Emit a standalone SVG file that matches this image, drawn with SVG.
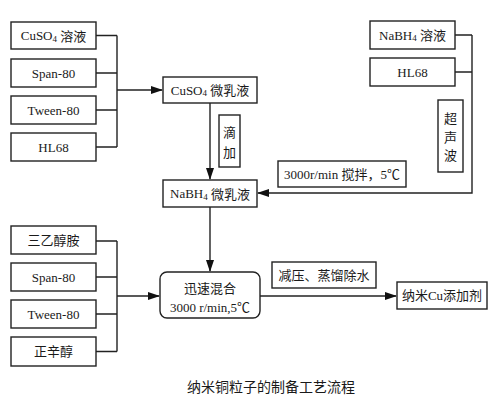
<svg xmlns="http://www.w3.org/2000/svg" width="492" height="402" viewBox="0 0 492 402">
<defs>
<marker id="ah" markerWidth="12" markerHeight="8" refX="11" refY="4" orient="auto" markerUnits="userSpaceOnUse">
<path d="M0,0 L12,4 L0,8 Z" fill="#111"/>
</marker>
<style>
.b{fill:#fff;stroke:#222;stroke-width:1.4}
.t{font-family:"Liberation Serif","Noto Sans CJK SC",serif;font-size:13px;fill:#1a1a1a;text-anchor:middle;dominant-baseline:central}
.l{fill:none;stroke:#222;stroke-width:1.4}
.s{font-size:9px}
</style>
</defs>
<rect width="492" height="402" fill="#fff"/>
<g id="connectors">
<path class="l" d="M96,35.5H117M96,73H117M96,110H117M96,147H117M117,35.5V147"/>
<path class="l" d="M117,90H162" marker-end="url(#ah)"/>
<path class="l" d="M210,103V179" marker-end="url(#ah)"/>
<path class="l" d="M455,35H472M455,72H472"/>
<path class="l" d="M472,35V193H258" marker-end="url(#ah)"/>
<path class="l" d="M210,207V271" marker-end="url(#ah)"/>
<path class="l" d="M96,241H117M96,277H117M96,314H117M96,351.5H117M117,241V351.5"/>
<path class="l" d="M117,296H159" marker-end="url(#ah)"/>
<path class="l" d="M260,296H396" marker-end="url(#ah)"/>
</g>
<g id="n-cuso4"><rect class="b" x="11" y="22" width="85" height="27"/><text class="t" x="53.5" y="35.5">CuSO<tspan class="s" dy="3">4</tspan><tspan dy="-3"> 溶液</tspan></text></g>
<g id="n-span1"><rect class="b" x="11" y="59" width="85" height="28"/><text class="t" x="53.5" y="73">Span-80</text></g>
<g id="n-tween1"><rect class="b" x="11" y="96" width="85" height="28"/><text class="t" x="53.5" y="110">Tween-80</text></g>
<g id="n-hl1"><rect class="b" x="11" y="133" width="85" height="28"/><text class="t" x="53.5" y="147">HL68</text></g>
<g id="n-cuso4-me"><rect class="b" x="163" y="77" width="94" height="26"/><text class="t" x="210" y="90">CuSO<tspan class="s" dy="3">4</tspan><tspan dy="-3"> 微乳液</tspan></text></g>
<g id="n-dijia"><rect class="b" x="219" y="115" width="21" height="52"/><text class="t" x="229.5" y="132">滴</text><text class="t" x="229.5" y="152">加</text></g>
<g id="n-nabh4-me"><rect class="b" x="163" y="180" width="94" height="27"/><text class="t" x="210" y="193.5">NaBH<tspan class="s" dy="3">4</tspan><tspan dy="-3"> 微乳液</tspan></text></g>
<g id="n-nabh4"><rect class="b" x="370" y="21" width="85" height="28"/><text class="t" x="412.5" y="35">NaBH<tspan class="s" dy="3">4</tspan><tspan dy="-3"> 溶液</tspan></text></g>
<g id="n-hl2"><rect class="b" x="370" y="58" width="85" height="28"/><text class="t" x="412.5" y="72">HL68</text></g>
<g id="n-ultra"><rect class="b" x="438" y="100" width="25" height="72"/><text class="t" x="450.5" y="118">超</text><text class="t" x="450.5" y="137">声</text><text class="t" x="450.5" y="155">波</text></g>
<g id="n-stir"><rect class="b" x="278" y="161" width="128" height="26"/><text class="t" x="342" y="174">3000r/min 搅拌，5℃</text></g>
<g id="n-tea"><rect class="b" x="11" y="226" width="85" height="28"/><text class="t" x="53.5" y="240">三乙醇胺</text></g>
<g id="n-span2"><rect class="b" x="11" y="263" width="85" height="28"/><text class="t" x="53.5" y="277">Span-80</text></g>
<g id="n-tween2"><rect class="b" x="11" y="300" width="85" height="28"/><text class="t" x="53.5" y="314">Tween-80</text></g>
<g id="n-octanol"><rect class="b" x="11" y="337" width="85" height="29"/><text class="t" x="53.5" y="351.5">正辛醇</text></g>
<g id="n-mix"><rect class="b" x="160" y="272" width="100" height="46" rx="7"/><text class="t" x="210" y="288">迅速混合</text><text class="t" x="210" y="307">3000 r/min,5℃</text></g>
<g id="n-distill"><rect class="b" x="272" y="262" width="104" height="26"/><text class="t" x="324" y="275">减压、蒸馏除水</text></g>
<g id="n-product"><rect class="b" x="397" y="282" width="90" height="27"/><text class="t" x="442" y="295.5">纳米Cu添加剂</text></g>
<text class="t" x="271" y="387" style="font-size:14px">纳米铜粒子的制备工艺流程</text>
</svg>
